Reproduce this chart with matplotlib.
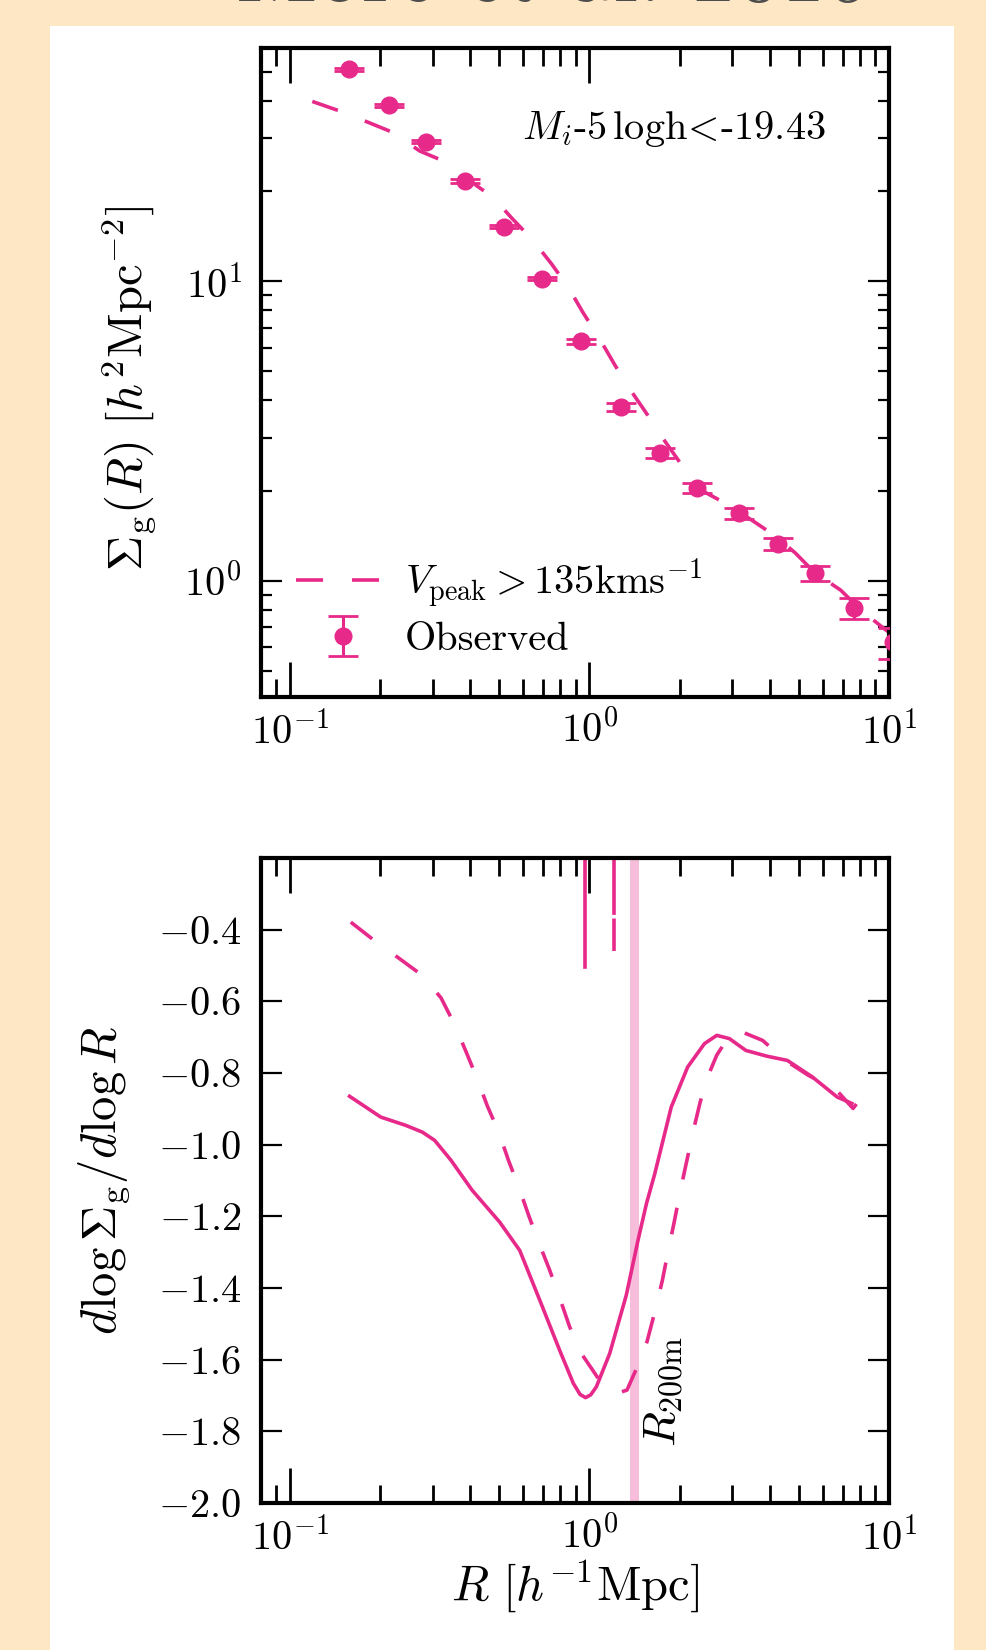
import numpy as np
import matplotlib
matplotlib.use('Agg')
import matplotlib.pyplot as plt
from matplotlib.patches import Rectangle

plt.rcParams['font.family'] = 'serif'
plt.rcParams['font.serif'] = ['cmr10']
plt.rcParams['mathtext.fontset'] = 'cm'
plt.rcParams['axes.formatter.use_mathtext'] = True
plt.rcParams['axes.unicode_minus'] = True

pink = '#e7298a'

# observed surface density profile
r_obs = [0.157, 0.214, 0.284, 0.385, 0.520, 0.695, 0.938, 1.27, 1.72, 2.28,
         3.15, 4.25, 5.68, 7.66, 10.3]
sig_obs = [51.0, 38.7, 29.2, 21.6, 15.2, 10.2, 6.3, 3.81, 2.67, 2.04,
           1.68, 1.33, 1.06, 0.81, 0.624]
sig_err = [0.59, 0.45, 0.34, 0.25, 0.18, 0.14, 0.12, 0.107, 0.10, 0.082,
           0.071, 0.065, 0.058, 0.066, 0.075]

# model (Vpeak > 135 km/s)
r_mod = [0.1187, 0.1452, 0.1811, 0.2218, 0.2710, 0.3311, 0.4207, 0.4753, 0.5546,
         0.6471, 0.7482, 0.8531, 0.9506, 1.069, 1.213, 1.358, 1.542, 1.750, 1.995,
         2.333, 2.831, 3.467, 4.140, 4.864, 5.623, 6.902, 8.072, 9.795, 10.5]
sig_mod = [39.8, 37.1, 34.0, 31.3, 27.2, 25.0, 20.8, 19.1, 16.1,
           13.7, 11.4, 9.48, 7.87, 6.55, 5.27, 4.39, 3.65, 3.01, 2.50,
           2.02, 1.82, 1.60, 1.42, 1.24, 1.07, 0.931, 0.798, 0.684, 0.655]

# log slope, observed
r_slope_obs = [0.1581, 0.2009, 0.2432, 0.2767, 0.3041, 0.3451, 0.4055, 0.5012, 0.5848,
               0.6823, 0.7943, 0.8831, 0.9300, 0.9705, 1.010, 1.054, 1.168, 1.327, 1.452,
               1.549, 1.652, 1.875, 2.128, 2.421, 2.661, 2.931, 3.327, 3.908, 4.581, 5.546,
               6.714, 7.516]
slope_obs = [-0.865, -0.923, -0.946, -0.965, -0.988, -1.044, -1.127, -1.216, -1.295,
             -1.434, -1.573, -1.666, -1.697, -1.706, -1.698, -1.676, -1.583, -1.420, -1.267,
             -1.165, -1.081, -0.895, -0.783, -0.718, -0.695, -0.704, -0.737, -0.753, -0.765,
             -0.811, -0.867, -0.885]

# log slope, model
r_slope_mod = [0.1596, 0.1897, 0.2296, 0.2748, 0.3192, 0.3532, 0.3864, 0.4207, 0.4560,
               0.4989, 0.5370, 0.5821, 0.6281, 0.6792, 0.7362, 0.7962, 0.8590, 0.9397,
               1.081, 1.164, 1.256, 1.334, 1.435, 1.556, 1.652, 1.750, 1.828, 1.919,
               2.009, 2.113, 2.223, 2.344, 2.483, 2.661, 2.884, 3.221, 3.784, 4.508,
               5.370, 6.714, 7.586, 8.035]
slope_mod = [-0.379, -0.428, -0.478, -0.526, -0.590, -0.662, -0.739, -0.814, -0.892,
             -0.967, -1.045, -1.121, -1.200, -1.276, -1.350, -1.429, -1.509, -1.583,
             -1.658, -1.680, -1.692, -1.685, -1.625, -1.550, -1.467, -1.380, -1.300, -1.215,
             -1.130, -1.045, -0.960, -0.880, -0.810, -0.750, -0.705, -0.685, -0.709, -0.765,
             -0.806, -0.850, -0.899, -0.871]

r_sp_obs = 0.969
r_sp_mod = 1.211
r_200m = 1.408

fig = plt.figure(figsize=(9.87, 16.5), dpi=100)
fig.patch.set_facecolor('#fde7c4')
fig.patches.append(Rectangle((0.0507, 0.0), 0.9159, 0.9842, transform=fig.transFigure,
                             facecolor='white', edgecolor='none', zorder=-10))
fig.text(0.560, 0.9993, 'More et al. 2016', ha='center', va='baseline',
         fontsize=64, color='#4d4d4d', zorder=-10)

ax1 = fig.add_axes([0.2644, 0.5776, 0.6363, 0.3933])
ax2 = fig.add_axes([0.2644, 0.0891, 0.6363, 0.3909])

lw = 2.6
dash = (0, (7.5, 8))

# top panel
ax1.plot(r_mod, sig_mod, color=pink, lw=lw, ls=dash,
         label=r'$V_{\rm peak}>135{\rm kms}^{-1}$')
ax1.errorbar(r_obs, sig_obs, yerr=sig_err, fmt='o', color=pink, ms=12,
             capsize=10.5, capthick=2, elinewidth=2.2, label='Observed', zorder=3)
ax1.set_xscale('log')
ax1.set_yscale('log')
ax1.set_xlim(0.08, 10)
ax1.set_ylim(0.41, 60)
ax1.set_ylabel(r'$\Sigma_{\rm g}(R)\ [h^2{\rm Mpc}^{-2}]$', fontsize=35)
ax1.yaxis.set_label_coords(-0.164, 0.475)
ax1.text(0.900, 0.875, r'$M_i$-5$\,$logh$\!<\!$-19.43', transform=ax1.transAxes,
         ha='right', va='center', fontsize=29)
leg = ax1.legend(loc='lower left', bbox_to_anchor=(0.03, 0.035), frameon=False,
                 fontsize=29, handlelength=2.35, handletextpad=0.35,
                 borderaxespad=0, labelspacing=0.3)

# bottom panel
ax2.axvline(r_200m, color=pink, alpha=0.3, lw=6.5, zorder=1)
ax2.plot(r_slope_obs, slope_obs, color=pink, lw=lw)
ax2.plot(r_slope_mod, slope_mod, color=pink, lw=lw, ls=dash)
ax2.plot([r_sp_obs, r_sp_obs], [-0.505, -0.2], color=pink, lw=lw)
ax2.plot([r_sp_mod, r_sp_mod], [-0.46, -0.2], color=pink, lw=lw, ls=(0, (9, 1, 26, 1)))
ax2.text(1.50, -1.845, r'$R_{\rm 200m}$', rotation=90, ha='left', va='bottom', fontsize=33)
ax2.set_xscale('log')
ax2.set_xlim(0.08, 10)
ax2.set_ylim(-2.0, -0.2)
ax2.set_yticks(np.arange(-2.0, -0.3, 0.2))
ax2.set_xlabel(r'$R\ [h^{-1}{\rm Mpc}]$', fontsize=35)
ax2.xaxis.set_label_coords(0.5, -0.085)
ax2.set_ylabel(r'$d\log\Sigma_{\rm g}/d\log R$', fontsize=35)
ax2.yaxis.set_label_coords(-0.207, 0.5)

for ax in (ax1, ax2):
    for s in ax.spines.values():
        s.set_linewidth(3)
    ax.tick_params(axis='x', which='major', direction='in', length=25, width=2,
                   top=True, pad=10, labelsize=29)
    ax.tick_params(axis='x', which='minor', direction='in', length=13, width=2, top=True)
    ax.tick_params(axis='y', which='major', direction='in', length=15, width=1.6,
                   right=True, pad=14, labelsize=29)
    ax.tick_params(axis='y', which='minor', direction='in', length=8, width=1.6, right=True)

fig.savefig('out.png', dpi=100, facecolor=fig.get_facecolor())
